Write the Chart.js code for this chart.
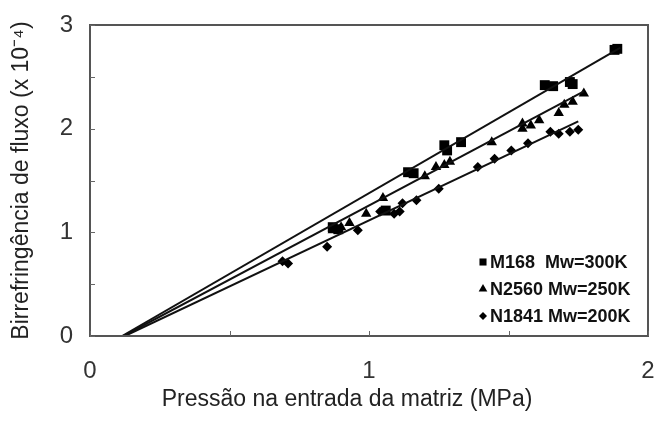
<!DOCTYPE html>
<html>
<head>
<meta charset="utf-8">
<script src="https://cdn.jsdelivr.net/npm/chart.js@4"></script>
<style>
  html, body { margin: 0; padding: 0; background: #fff; }
  #wrap { width: 656px; height: 421px; }
</style>
</head>
<body>
<div id="wrap"><canvas id="chart" width="656" height="421"></canvas></div>
<script>
// Flow birefringence vs die entry pressure, three polymers

const seriesNames = ['M168  Mw=300K', 'N2560 Mw=250K', 'N1841 Mw=200K'];
const pointShapes = ['rect', 'triangle', 'rectRot'];

const m168X = [0.87, 0.89, 1.06, 1.14, 1.16, 1.27, 1.28, 1.33, 1.63, 1.66, 1.72, 1.73, 1.88, 1.89];
const m168Y = [1.05, 1.03, 1.21, 1.58, 1.57, 1.84, 1.79, 1.87, 2.42, 2.41, 2.45, 2.43, 2.76, 2.77];

const n2560X = [0.87, 0.90, 0.93, 0.99, 1.05, 1.20, 1.24, 1.27, 1.29, 1.44, 1.55, 1.55, 1.58, 1.61, 1.68, 1.70, 1.73, 1.77];
const n2560Y = [1.02, 1.05, 1.09, 1.18, 1.33, 1.54, 1.63, 1.65, 1.68, 1.87, 2.05, 2.00, 2.03, 2.08, 2.15, 2.23, 2.26, 2.34];

const n1841X = [0.69, 0.71, 0.85, 0.96, 1.04, 1.09, 1.11, 1.12, 1.17, 1.25, 1.39, 1.45, 1.51, 1.57, 1.65, 1.68, 1.72, 1.75];
const n1841Y = [0.72, 0.70, 0.86, 1.02, 1.20, 1.18, 1.20, 1.28, 1.31, 1.42, 1.63, 1.71, 1.79, 1.86, 1.97, 1.95, 1.97, 1.99];

// fitted lines, end points
const fitM168X = [0.115, 1.90];
const fitM168Y = [0, 2.78];
const fitN2560X = [0.12, 1.77];
const fitN2560Y = [0, 2.36];
const fitN1841X = [0.125, 1.75];
const fitN1841Y = [0, 2.07];

const xTicks = [0, 0.5, 1, 1.5, 2];
const yTicks = [0, 0.5, 1, 1.5, 2, 2.5, 3];

const xTitle = 'Pressão na entrada da matriz (MPa)';
const yTitle = 'Birrefringência de fluxo (x 10⁻⁴)';

const fontFamily = '"Liberation Sans", Arial, sans-serif';

const toPoints = (xs, ys) => xs.map((x, i) => ({ x: x, y: ys[i] }));

function scatterSet(label, xs, ys, shape, radius) {
    return {
        label: label,
        data: toPoints(xs, ys),
        pointStyle: shape,
        pointRadius: radius,
        backgroundColor: '#000',
        borderColor: '#000',
        borderWidth: 0,
        showLine: false
    };
}

function fitSet(xs, ys) {
    return {
        label: 'fit',
        data: toPoints(xs, ys),
        showLine: true,
        borderColor: '#111',
        borderWidth: 2,
        pointRadius: 0
    };
}

// box around the plot plus inward tick marks
const frameTicks = {
    id: 'frameTicks',
    afterDraw(chart) {
        const { ctx, chartArea: a, scales } = chart;
        ctx.save();
        ctx.strokeStyle = '#555';
        ctx.lineWidth = 2;
        ctx.strokeRect(a.left, a.top, a.right - a.left, a.bottom - a.top);
        ctx.lineWidth = 1;
        ctx.strokeStyle = '#666';
        xTicks.forEach(v => {
            const px = Math.round(scales.x.getPixelForValue(v)) + 0.5;
            ctx.beginPath();
            ctx.moveTo(px, a.bottom);
            ctx.lineTo(px, a.bottom - 5);
            ctx.stroke();
        });
        yTicks.forEach(v => {
            const py = Math.round(scales.y.getPixelForValue(v)) + 0.5;
            ctx.beginPath();
            ctx.moveTo(a.left, py);
            ctx.lineTo(a.left + 5, py);
            ctx.stroke();
        });
        // x axis title sits a bit left of the plot centre
        ctx.font = '23px ' + fontFamily;
        ctx.fillStyle = '#222';
        ctx.textAlign = 'center';
        ctx.textBaseline = 'middle';
        ctx.fillText(xTitle, 347, 400);
        ctx.restore();
    }
};

// legend drawn inside the lower right corner
const innerLegend = {
    id: 'innerLegend',
    afterDraw(chart) {
        const { ctx, chartArea: a } = chart;
        const left = 490;
        const rows = [a.bottom - 74, a.bottom - 47, a.bottom - 20];
        const radii = [5, 5, 4];
        ctx.save();
        ctx.font = 'bold 18px ' + fontFamily;
        ctx.textBaseline = 'middle';
        seriesNames.forEach((name, i) => {
            ctx.fillStyle = '#000';
            ctx.strokeStyle = '#000';
            Chart.helpers.drawPoint(ctx, { pointStyle: pointShapes[i], radius: radii[i], borderWidth: 0 }, left - 7, rows[i]);
            ctx.fillStyle = '#111';
            ctx.fillText(name, left, rows[i] + 1);
        });
        ctx.restore();
    }
};

const tickFont = { family: fontFamily, size: 24 };
const titleFont = { family: fontFamily, size: 23 };

new Chart(document.getElementById('chart'), {
    type: 'scatter',
    data: {
        datasets: [
            fitSet(fitM168X, fitM168Y),
            fitSet(fitN2560X, fitN2560Y),
            fitSet(fitN1841X, fitN1841Y),
            scatterSet(seriesNames[0], m168X, m168Y, pointShapes[0], 7),
            scatterSet(seriesNames[1], n2560X, n2560Y, pointShapes[1], 6),
            scatterSet(seriesNames[2], n1841X, n1841Y, pointShapes[2], 5)
        ]
    },
    options: {
        responsive: false,
        animation: false,
        layout: { padding: { top: 25, right: 8, left: 0, bottom: 0 } },
        plugins: {
            legend: { display: false },
            tooltip: { enabled: false }
        },
        scales: {
            x: {
                type: 'linear',
                min: 0,
                max: 2,
                afterFit(scale) {
                    scale.height = 85;
                    scale.paddingLeft = 0;
                    scale.paddingRight = 0;
                },
                afterBuildTicks(scale) { scale.ticks = xTicks.map(v => ({ value: v })); },
                grid: { display: false, drawTicks: false },
                border: { display: false },
                ticks: {
                    padding: 21,
                    color: '#333',
                    font: tickFont,
                    maxRotation: 0,
                    callback: v => Number.isInteger(v) ? String(v) : ''
                }
            },
            y: {
                type: 'linear',
                min: 0,
                max: 3,
                afterFit(scale) {
                    scale.width = 90;
                    scale.paddingTop = 0;
                    scale.paddingBottom = 0;
                },
                afterBuildTicks(scale) { scale.ticks = yTicks.map(v => ({ value: v })); },
                grid: { display: false, drawTicks: false },
                border: { display: false },
                ticks: {
                    padding: 17,
                    color: '#333',
                    font: tickFont,
                    callback: v => Number.isInteger(v) ? String(v) : ''
                },
                title: {
                    display: true,
                    text: yTitle,
                    color: '#222',
                    font: titleFont,
                    padding: { top: 8, bottom: 0 }
                }
            }
        }
    },
    plugins: [frameTicks, innerLegend]
});
</script>
</body>
</html>
